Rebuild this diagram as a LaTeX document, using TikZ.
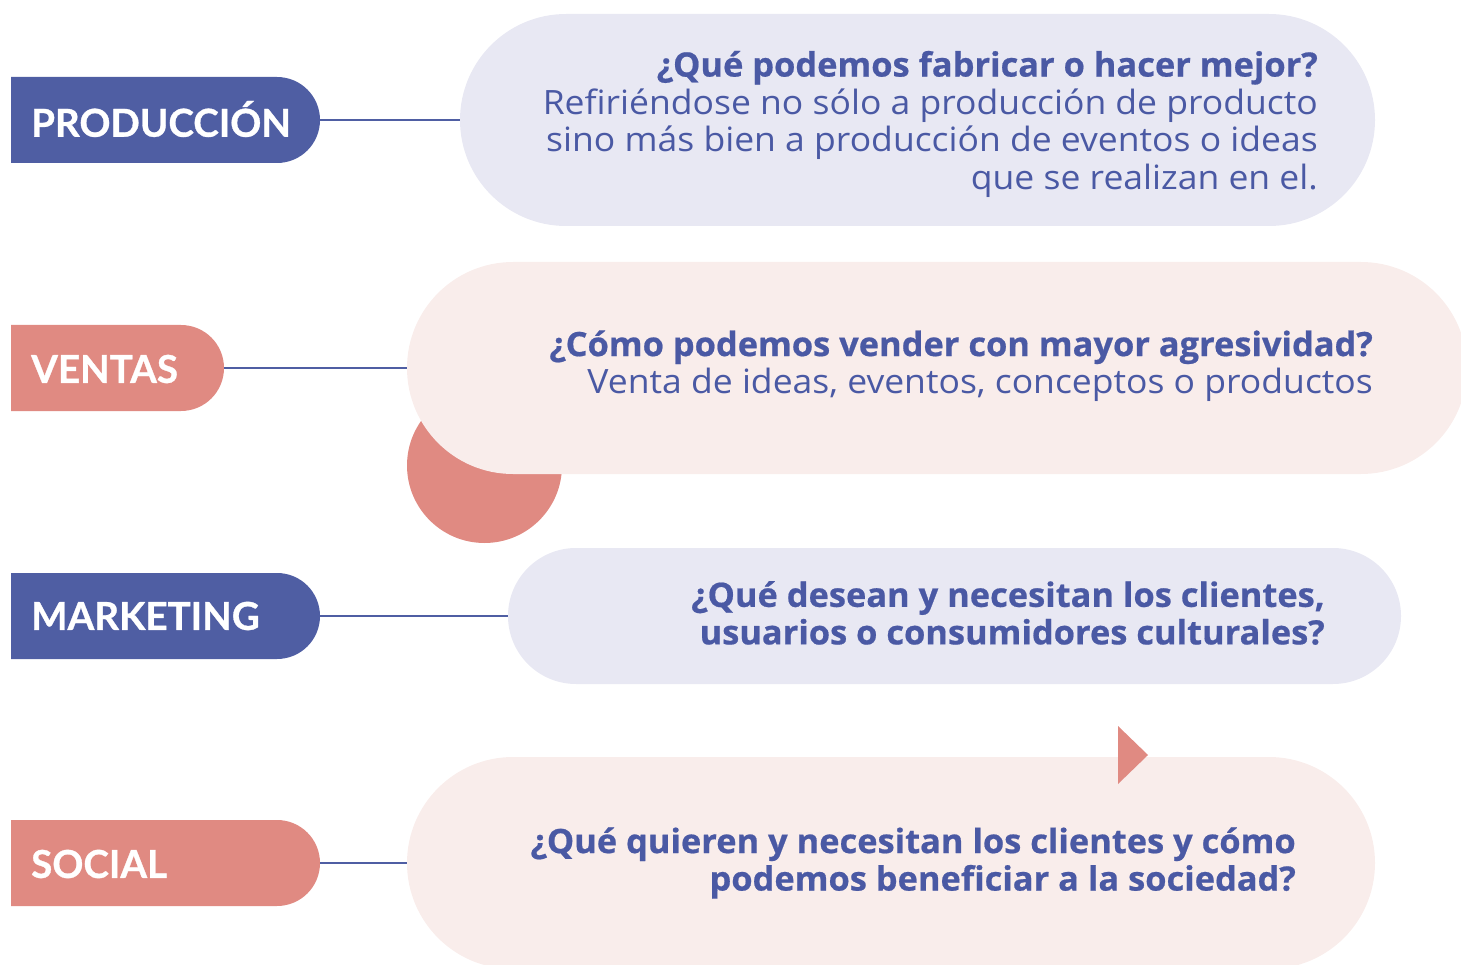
\documentclass[tikz,border=0pt]{standalone}
\usepackage{fontspec}
\setmainfont{Lato}
\newfontfamily\labfont[FakeBold=0.8]{Lato}
\newfontfamily\bodyrg[FakeStretch=1.06]{Open Sans}
\newfontfamily\bodybf[FakeStretch=1.027,FakeBold=0.6]{Open Sans}
\usetikzlibrary{shapes.misc}
\definecolor{cblue}{HTML}{4F5EA3}
\definecolor{ctext}{HTML}{4A59A4}
\definecolor{cpink}{HTML}{E08A82}
\definecolor{lblue}{HTML}{E8E8F3}
\definecolor{lpink}{HTML}{F9EDEB}
\newcommand{\hd}[1]{{\bodybf\bfseries #1}}
\tikzset{
  labbox/.style={rounded rectangle, rounded rectangle west arc=none, minimum height=86, inner sep=0pt, draw=none},
  labtxt/.style={anchor=west, inner sep=0pt, text=white, font=\labfont\fontsize{38.5}{40}\selectfont\bfseries},
  bubble/.style={rounded rectangle, inner sep=0pt, draw=none},
  btxt/.style={anchor=east, inner sep=0pt, align=right, text=ctext, font=\bodyrg\fontsize{33.5}{37.5}\selectfont},
  conn/.style={draw=cblue, line width=2.8pt}
}
\begin{document}
\begin{tikzpicture}[x=1pt,y=-1pt]
\useasboundingbox (0,0) rectangle (1461,965);
\clip (0,0) rectangle (1461,965);
% decorations
\fill[cpink] (484.5,465.5) circle (77.5);
% bubbles
\node[bubble, fill=lblue, minimum width=915, minimum height=212] (b1) at (917.5,120) {};
\node[bubble, fill=lpink, minimum width=1060, minimum height=212] (b2) at (937,368) {};
\node[bubble, fill=lblue, minimum width=893, minimum height=136] (b3) at (954.5,616) {};
\node[bubble, fill=lpink, minimum width=968, minimum height=212] (b4) at (891,863) {};
\coordinate (triA) at (1118,726);
\fill[cpink] (triA) -- (1148,755) -- (1118,784) -- cycle;
% labels
\node[labbox, fill=cblue, minimum width=309] (l1) at (165.5,120) {};
\node[labbox, fill=cpink, minimum width=213] (l2) at (117.5,368) {};
\node[labbox, fill=cblue, minimum width=309] (l3) at (165.5,616) {};
\node[labbox, fill=cpink, minimum width=309] (l4) at (165.5,863) {};
\node[labtxt] (t1) at (31,119) {PRODUCCIÓN};
\node[labtxt] (t2) at (31,369) {VENTAS};
\node[labtxt] (t3) at (31,616) {MARKETING};
\node[labtxt] (t4) at (31,864) {SOCIAL};
% connectors
\draw[conn] (l1.east) -- (b1.west);
\draw[conn] (l2.east) -- (b2.west);
\draw[conn] (l3.east) -- (b3.west);
\draw[conn] (l4.east) -- (b4.west);
% texts
\node[btxt] (q1) at (1318,124) {\hd{¿Qué podemos fabricar o hacer mejor?}\\Refiriéndose no sólo a producción de producto\\sino más bien a producción de eventos o ideas\\que se realizan en el.};
\node[btxt] (q2) at (1373,366) {\hd{¿Cómo podemos vender con mayor agresividad?}\\Venta de ideas, eventos, conceptos o productos};
\node[btxt] (q3) at (1325,613) {\hd{¿Qué desean y necesitan los clientes,}\\\hd{usuarios o consumidores culturales?}};
\node[btxt] (q4) at (1296,863) {\hd{¿Qué quieren y necesitan los clientes y cómo}\\\hd{podemos beneficiar a la sociedad?}};
\end{tikzpicture}
\end{document}
